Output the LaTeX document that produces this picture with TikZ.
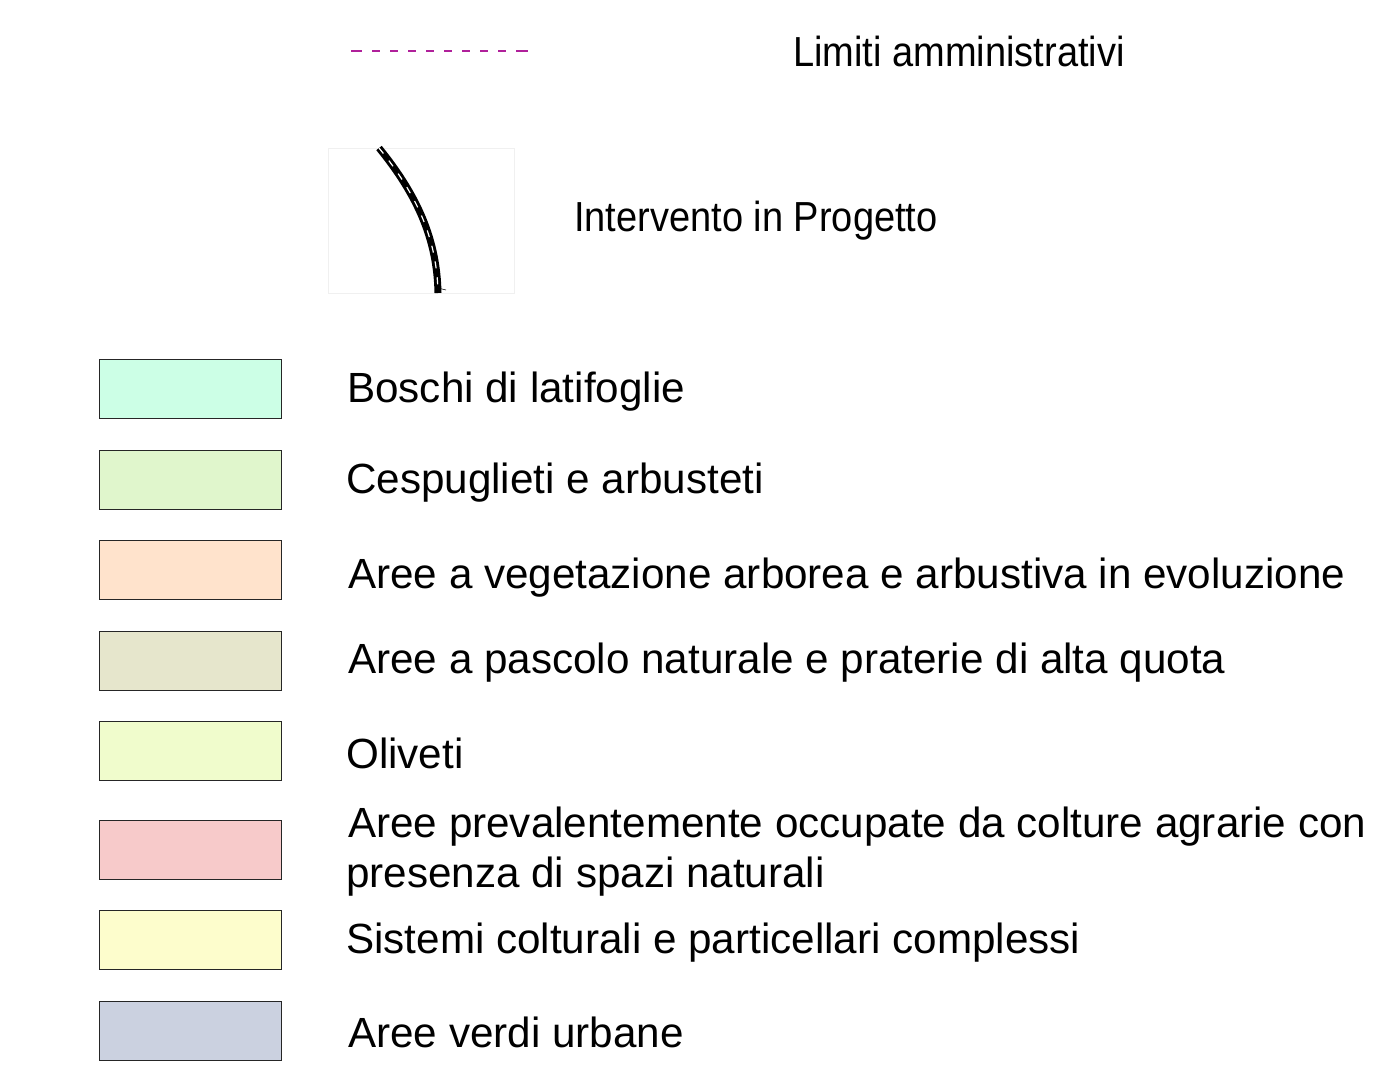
\documentclass[tikz,border=0pt]{standalone}
\usepackage{fontspec}
\setmainfont{Liberation Sans}
\newfontfamily\narrowfont[FakeStretch=0.905]{Liberation Sans}
\begin{document}
\begin{tikzpicture}[x=1pt,y=-1pt,
  legbox/.style={draw=black!85, line width=1.4pt},
  legtext/.style={anchor=base west, inner sep=0pt, font=\fontsize{42.2}{50}\selectfont},
  toptext/.style={anchor=base west, inner sep=0pt, font=\narrowfont\fontsize{42}{50}\selectfont}]
\useasboundingbox[fill=white] (0,0) rectangle (1400,1079);
\definecolor{c1}{HTML}{CCFFE6}
\definecolor{c2}{HTML}{E0F6CC}
\definecolor{c3}{HTML}{FFE3CC}
\definecolor{c4}{HTML}{E6E6CC}
\definecolor{c5}{HTML}{F0FCCC}
\definecolor{c6}{HTML}{F7CACA}
\definecolor{c7}{HTML}{FDFDCC}
\definecolor{c8}{HTML}{CBD1E0}
\definecolor{limcol}{HTML}{B0209A}
% Limiti amministrativi
\coordinate (la) at (351,51);
\coordinate (lb) at (529,51);
\draw[limcol, line width=1.5pt, dash pattern=on 11pt off 10pt on 8pt off 10pt on 8pt off 10pt on 8pt off 10pt on 8pt off 10pt on 8pt off 10pt on 8pt off 10pt on 8pt off 10pt on 8pt off 10pt on 12pt off 10pt] (la) -- (lb);
\node[toptext] (lim) at (793,66) {Limiti amministrativi};
% Intervento in progetto
\node[draw=black!6, line width=0.8pt, minimum width=186pt, minimum height=145pt, inner sep=0pt, anchor=north west] (ifr) at (328,148) {};
\coordinate (ca) at (379,148);
\coordinate (cb) at (438,293);
\draw[line width=7pt, black] (ca) .. controls (418,196) and (437,240) .. (cb);
\draw[line width=1.2pt, white, dash pattern=on 7pt off 9pt] (ca) .. controls (418,196) and (437,240) .. (cb);
\draw[black, line width=0.6pt] (438,288) -- (446,290);
\node[toptext] (int) at (574,231) {Intervento in Progetto};
% legend boxes
\foreach \n/\y/\c in {1/359/c1,2/450/c2,3/540/c3,4/631/c4,5/721/c5,6/820/c6,7/910/c7,8/1001/c8}{
  \node[legbox, fill=\c, minimum width=182pt, minimum height=59pt, inner sep=0pt, anchor=north west] (b\n) at (99,\y) {};
}
\node[legtext] (t1) at (347,402) {Boschi di latifoglie};
\node[legtext] (t2) at (346,493) {Cespuglieti e arbusteti};
\node[legtext] (t3) at (348,588) {Aree a vegetazione arborea e arbustiva in evoluzione};
\node[legtext] (t4) at (348,673) {Aree a pascolo naturale e praterie di alta quota};
\node[legtext] (t5) at (346,768) {Oliveti};
\node[legtext] (t6) at (348,837) {Aree prevalentemente occupate da colture agrarie con};
\node[legtext] (t6b) at (346,887) {presenza di spazi naturali};
\node[legtext] (t7) at (346,953) {Sistemi colturali e particellari complessi};
\node[legtext] (t8) at (348,1047) {Aree verdi urbane};
\end{tikzpicture}
\end{document}
